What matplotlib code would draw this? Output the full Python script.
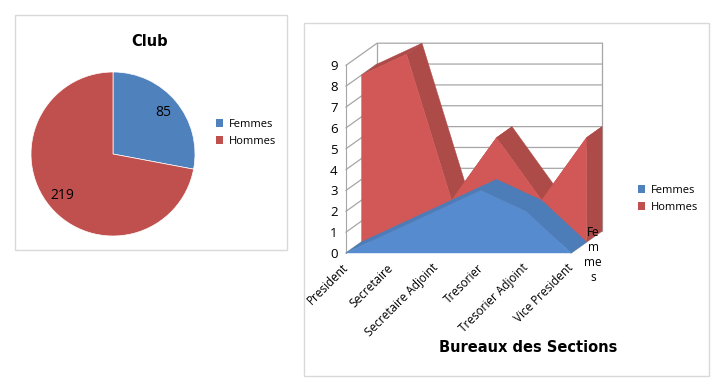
import matplotlib
matplotlib.use('Agg')
import matplotlib.pyplot as plt
from matplotlib.patches import Rectangle, Patch
from matplotlib.transforms import ScaledTranslation

plt.rcParams['font.family'] = ['Open Sans', 'DejaVu Sans']

W, H = 720, 385

club_labels = ['Femmes', 'Hommes']
club_values = [85, 219]

postes = ['President', 'Secretaire', 'Secretaire Adjoint', 'Tresorier', 'Tresorier Adjoint', 'Vice President']
femmes = [0, 1, 2, 3, 2, 0]
hommes = [8, 9, 2, 5, 2, 5]
y_ticks = [0, 1, 2, 3, 4, 5, 6, 7, 8, 9]

BLUE = '#4F81BD'
RED = '#C0504D'
FACE_RED = '#D25757'
SIDE_RED = '#AD4B49'
FACE_BLUE = '#568CCF'
SIDE_BLUE = '#4C7DB8'
GRID = '#A6A6A6'

# one step of depth, in data units (oblique 3D look)
DX = 0.345
DY = 0.53


def px_axes(fig, x0, y0, x1, y1):
    # pixel box, y counted from the top of the image
    return fig.add_axes([x0 / W, 1 - y1 / H, (x1 - x0) / W, (y1 - y0) / H])


def panel(fig, x0, y0, x1, y1):
    fig.add_artist(Rectangle((x0 / W, 1 - y1 / H), (x1 - x0) / W, (y1 - y0) / H,
                             transform=fig.transFigure, fc='white', ec='#D9D9D9', lw=1, zorder=-1))


def area_3d(ax, values, depth, face, side):
    n = len(values)
    d0, d1 = depth * DX, depth * DY
    d2, d3 = (depth + 1) * DX, (depth + 1) * DY
    for i in range(n - 1):
        ax.fill([i + d0, i + 1 + d0, i + 1 + d2, i + d2],
                [values[i] + d1, values[i + 1] + d1, values[i + 1] + d3, values[i] + d3],
                fc=side, ec=side, lw=0.3, clip_on=False, zorder=3)
    last = n - 1
    ax.fill([last + d0, last + d2, last + d2, last + d0],
            [d1, d3, values[last] + d3, values[last] + d1],
            fc=side, ec=side, lw=0.3, clip_on=False, zorder=3)
    xs = [i + d0 for i in range(n)]
    ys = [v + d1 for v in values]
    ax.fill([xs[0]] + xs + [xs[-1]], [d1] + ys + [d1], fc=face, ec=face, lw=0.3,
            clip_on=False, zorder=3)


fig = plt.figure(figsize=(W / 100, H / 100), dpi=100, facecolor='white')
panel(fig, 14.5, 14.5, 286.5, 249.5)
panel(fig, 303.5, 22.5, 708.5, 375.5)

# pie
ax1 = px_axes(fig, 31, 72, 195, 236)
ax1.patch.set_visible(False)
ax1.pie(club_values, colors=[BLUE, RED], startangle=90, counterclock=False,
        autopct=lambda p: '%d' % round(p * sum(club_values) / 100), pctdistance=0.8,
        wedgeprops={'edgecolor': 'white', 'linewidth': 0.5},
        textprops={'fontsize': 10, 'color': 'black'})
ax1.set_xlim(-1, 1)
ax1.set_ylim(-1, 1)
fig.text(150 / W, 1 - 41 / H, 'Club', fontsize=10.5, fontweight='bold', ha='center', va='center',
         family='DejaVu Sans')
fig.legend(handles=[Patch(fc=BLUE, label=club_labels[0]), Patch(fc=RED, label=club_labels[1])],
           loc='upper left', bbox_to_anchor=(214 / W, 1 - 117 / H), frameon=False, fontsize=8,
           handlelength=0.6, handleheight=0.7, handletextpad=0.5, labelspacing=0.48, borderpad=0,
           borderaxespad=0.2)

# 3D area drawn on flat axes
nb = len(postes) - 1
top = max(y_ticks)
xmax = nb + 2 * DX
ymax = top + 2 * DY
ax2 = px_axes(fig, 346, 43.2, 346 + xmax * 45, 253)
ax2.patch.set_visible(False)
ax2.set_xlim(0, xmax)
ax2.set_ylim(0, ymax)

for v in y_ticks:
    ax2.plot([0, 2 * DX, xmax], [v, v + 2 * DY, v + 2 * DY], color=GRID, lw=0.9, zorder=1, clip_on=False)
ax2.plot([2 * DX, 2 * DX], [2 * DY, ymax], color=GRID, lw=0.9, zorder=1)
ax2.plot([xmax, xmax], [2 * DY, ymax], color=GRID, lw=0.9, zorder=1, clip_on=False)
ax2.plot([nb, xmax], [0, 2 * DY], color=GRID, lw=0.9, zorder=1, clip_on=False)

area_3d(ax2, hommes, 1, FACE_RED, SIDE_RED)
area_3d(ax2, femmes, 0, FACE_BLUE, SIDE_BLUE)

for s in ['top', 'right', 'bottom']:
    ax2.spines[s].set_visible(False)
ax2.spines['left'].set_bounds(0, top)
ax2.spines['left'].set_color(GRID)
ax2.set_yticks(y_ticks)
ax2.set_xticks(range(len(postes)))
ax2.set_xticklabels(postes, rotation=45, ha='right', va='top', rotation_mode='anchor', fontsize=8.5)
ax2.tick_params(axis='y', length=0, labelsize=9.5, pad=6)
ax2.tick_params(axis='x', length=0, pad=6)
for lab in ax2.get_xticklabels():
    lab.set_transform(lab.get_transform() + ScaledTranslation(-4 / 100, 0, fig.dpi_scale_trans))

ax2.text(nb + 0.49, -0.1, 'Fe\nm\nme\ns', fontsize=8.5, ha='center', va='center', linespacing=1.2,
         zorder=5, clip_on=False)

fig.text(528.5 / W, 1 - 347 / H, 'Bureaux des Sections', fontsize=10.5, fontweight='bold',
         ha='center', va='center', family='DejaVu Sans')
fig.legend(handles=[Patch(fc=BLUE, label='Femmes'), Patch(fc=RED, label='Hommes')],
           loc='upper left', bbox_to_anchor=(636 / W, 1 - 183 / H), frameon=False, fontsize=8,
           handlelength=0.6, handleheight=0.7, handletextpad=0.5, labelspacing=0.48, borderpad=0,
           borderaxespad=0.2)

fig.savefig('out.png', dpi=100)
